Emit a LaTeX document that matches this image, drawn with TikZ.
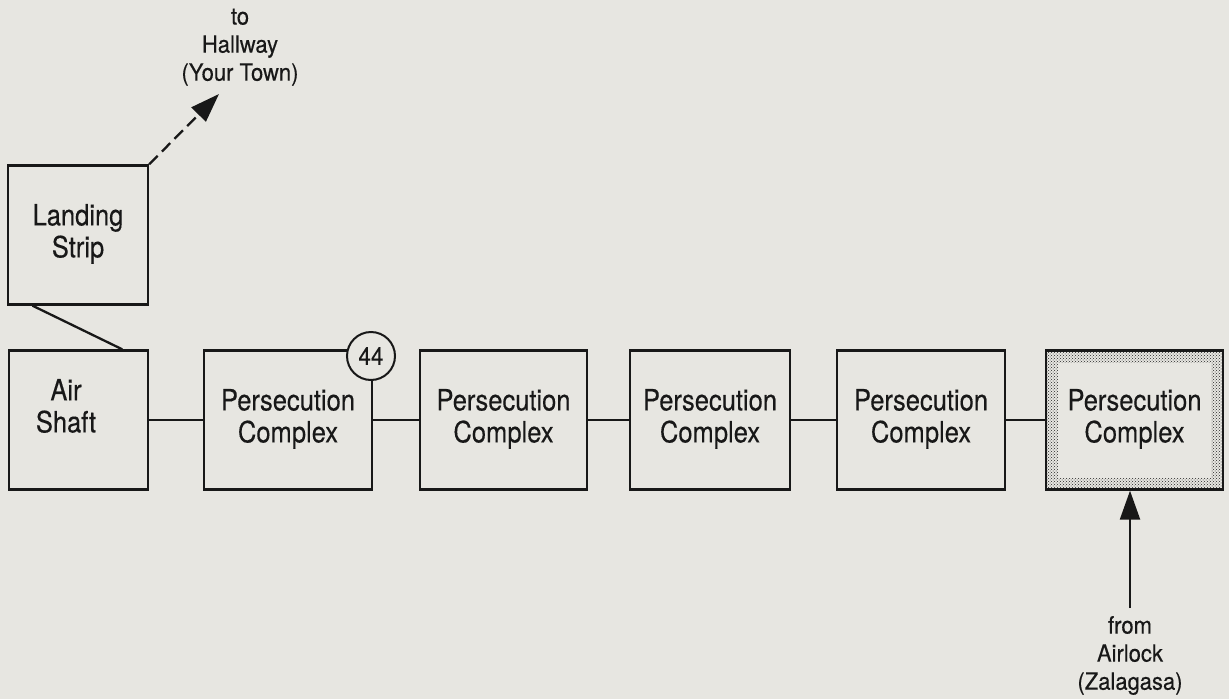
\documentclass[tikz,border=0pt]{standalone}
\usepackage{fontspec}
\setmainfont{TeX Gyre Heros}[FakeBold=0.35]
\usetikzlibrary{arrows.meta,patterns,calc}
\definecolor{paper}{RGB}{231,230,225}
\definecolor{ink}{RGB}{24,24,24}
\newcommand{\tallbox}[2]{\scalebox{1}[#1]{\begin{tabular}{@{}c@{}}#2\end{tabular}}}
\newcommand{\roomtxt}[1]{\tallbox{1.15}{#1}}
\newcommand{\lbltxt}[1]{\tallbox{1.08}{#1}}
\tikzset{
  room/.style={draw=ink, line width=2.3pt, minimum width=#1, minimum height=139pt, inner sep=0pt, align=center, font=\fontsize{25.5}{27.8}\selectfont, text=ink},
  room/.default=168pt,
  lbl/.style={align=center, font=\fontsize{22}{26}\selectfont, text=ink, inner sep=0pt},
  conn/.style={draw=ink, line width=2.3pt},
  bigtip/.style={-{Triangle[length=29pt,width=20pt]}}
}
\begin{document}
\begin{tikzpicture}[x=1pt,y=-1pt]
\useasboundingbox (0,0) rectangle (1229,699);
\fill[paper] (0,0) rectangle (1229,699);
% landing strip
\node[room=140pt, minimum height=139pt] (ls) at (78,235) {\roomtxt{Landing\\Strip}};
% row of rooms
\node[room=139pt] (air) at (78.5,420) {};
\node[align=center, font=\fontsize{25.5}{27.8}\selectfont, text=ink, inner sep=0pt] (airtxt) at (66,410) {\roomtxt{Air\\Shaft}};
\node[room=168pt] (pc1) at (288,420) {\roomtxt{Persecution\\Complex}};
\node[room=167pt] (pc2) at (503.5,420) {\roomtxt{Persecution\\Complex}};
\node[room=160pt] (pc3) at (710,420) {\roomtxt{Persecution\\Complex}};
\node[room=168pt] (pc4) at (921,420) {\roomtxt{Persecution\\Complex}};
% shaded final room
\coordinate (p5a) at (1046,350.5);
\coordinate (p5b) at (1223,489.5);
\fill[paper] (p5a) rectangle (p5b);
\fill[pattern=crosshatch dots, pattern color=black!85] (p5a) rectangle (p5b);
\fill[paper] (1058,362.5) rectangle (1211,477.5);
\node[room=177pt, fill=none] (pc5) at (1134.5,420) {\roomtxt{Persecution\\Complex}};
% circle marker
\node[circle, draw=ink, line width=2pt, fill=paper, minimum size=48pt, inner sep=0pt, font=\fontsize{22.5}{22.5}\selectfont, text=ink] (n44) at (371,356) {\scalebox{1}[1.12]{44}};
% connectors
\draw[conn] ($(ls.south west)!0.18!(ls.south east)$) -- ($(air.north west)!0.81!(air.north east)$);
\draw[conn] (air) -- (pc1);
\draw[conn] (pc1) -- (pc2);
\draw[conn] (pc2) -- (pc3);
\draw[conn] (pc3) -- (pc4);
\draw[conn] (pc4) -- (pc5);
% exits
\coordinate (hall) at (219,94);
\draw[conn, bigtip, dash pattern=on 12pt off 6pt] (ls.north east) -- (hall);
\node[lbl] (halltxt) at (240,47) {\lbltxt{to\\Hallway\\(Your Town)}};
\coordinate (airlock) at (1130,608);
\draw[conn, bigtip] (airlock) -- (airlock |- pc5.south);
\node[lbl] (airlocktxt) at (1130,656) {\lbltxt{from\\Airlock\\(Zalagasa)}};
\end{tikzpicture}
\end{document}
